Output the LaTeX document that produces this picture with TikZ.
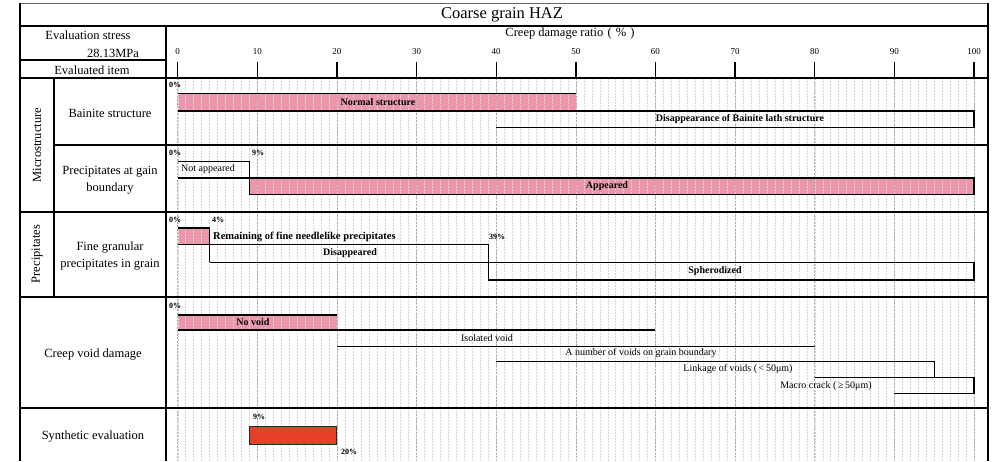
\documentclass[tikz,border=0pt]{standalone}
\usepackage{fontspec}
\setmainfont{Liberation Serif}
\definecolor{barpink}{RGB}{236,150,172}
\definecolor{barred}{RGB}{232,64,40}
\begin{document}
\begin{tikzpicture}[x=1pt,y=-1pt,
  tbl/.style={line width=1.3pt},
  gridminor/.style={black!16, dash pattern=on 1.5pt off 1.5pt, line width=0.4pt},
  gridmajor/.style={black!32, dash pattern=on 2pt off 1.5pt, line width=0.5pt},
  barline/.style={line width=1.1pt, line join=miter},
  hd/.style={font=\fontsize{12.5}{17}\selectfont, inner sep=0pt, align=center},
  tick/.style={font=\fontsize{9}{9}\selectfont, inner sep=0pt},
  blbl/.style={font=\fontsize{10}{10}\selectfont\bfseries, inner sep=0pt},
  rlbl/.style={font=\fontsize{10}{10}\selectfont, inner sep=0pt},
  pct/.style={font=\fontsize{8}{8}\selectfont\bfseries, inner sep=0pt}]
\useasboundingbox (0,0) rectangle (996,461);
\fill[white] (0,0) rectangle (996,461);

% ---------- chart area (x in percent) ----------
\begin{scope}[shift={(177.7,0)}, x=7.963pt]
  % fills
  \fill[barpink] (0,93.5) rectangle (50,111);
  \fill[barpink] (9,178) rectangle (100,194.3);
  \fill[barpink] (0,228) rectangle (4,244.3);
  \fill[barpink] (0,315) rectangle (20,330);
  % grid
  \foreach \i in {0,...,100} \draw[gridminor] (\i,78) -- (\i,461);
  \foreach \i in {0,10,...,100} \draw[gridmajor] (\i,78) -- (\i,461);
  \fill[barred] (9,426) rectangle (20,444.3);
  % ticks
  \foreach \i in {0,10,...,100} {
    \draw[line width=1.3pt] (\i,62) -- (\i,78);
    \node[tick] (t\i) at (\i,52) {\i};
  }
  % Bainite structure
  \draw[barline] (0,93.5) -- (50,93.5);
  \draw[barline] (0,111) -- (50,111);
  \draw[barline] (40,111) -- (100,111) -- (100,127.7) -- (40,127.7);
  % Precipitates at grain boundary
  \draw[barline] (0,161.7) -- (9,161.7) -- (9,194.3) -- (100,194.3) -- (100,178) -- (0,178);
  % Fine granular precipitates
  \draw[barline] (0,228) -- (4,228) -- (4,262.3);
  \draw[barline] (0,244.3) -- (39,244.3) -- (39,280) -- (100,280) -- (100,262.3) -- (4,262.3);
  % Creep void damage
  \draw[barline] (0,315) -- (20,315);
  \draw[barline] (0,330) -- (60,330);
  \draw[barline] (20,346.3) -- (80,346.3);
  \draw[barline] (40,361.5) -- (95,361.5) -- (95,377.3);
  \draw[barline] (80,377.3) -- (100,377.3) -- (100,393.3) -- (90,393.3);
  % Synthetic evaluation
  \draw[line width=1pt, black!85] (9,426) rectangle (20,444.3);
\end{scope}

% ---------- table lines ----------
\draw[line width=0.6pt, black!60] (20,3) -- (988,3);
\draw[tbl] (20,3) -- (20,461);
\draw[tbl] (988,3) -- (988,461);
\draw[tbl] (20,26) -- (988,26);
\draw[tbl] (166,26) -- (166,461);
\draw[tbl] (20,60) -- (166,60);
\draw[tbl] (20,78) -- (988,78);
\draw[tbl] (54,78) -- (54,297);
\draw[tbl] (54,145) -- (988,145);
\draw[tbl] (20,212) -- (988,212);
\draw[tbl] (20,297) -- (988,297);
\draw[tbl] (20,408) -- (988,408);

% ---------- header texts ----------
\node[font=\fontsize{16.5}{17}\selectfont, inner sep=0pt] (title) at (502,15) {Coarse grain HAZ};
\node[hd] (es) at (88,35) {Evaluation stress};
\node[hd] (mpa) at (113,53) {28.13MPa};
\node[hd] (ei) at (92,70) {Evaluated item};
\node[hd] (cdr) at (570,34) {Creep damage ratio\,\,(\,\,\%\,\,)};

% ---------- left column ----------
\node[hd, rotate=90] (micro) at (37,145) {Microstructure};
\node[hd, rotate=90] (prec) at (37,254) {Precipitates};
\node[hd] (bain) at (110,113) {Bainite structure};
\node[hd] (pgb) at (110,180) {Precipitates at gain\\boundary};
\node[hd] (fgp) at (110,256) {Fine granular\\precipitates in grain};
\node[hd] (cvd) at (93,355) {Creep void damage};
\node[hd] (syn) at (93,437) {Synthetic evaluation};

% ---------- bar labels ----------
\node[blbl] (ns) at (378,102) {Normal structure};
\node[blbl] (dbl) at (740,119.3) {Disappearance of Bainite lath structure};
\node[rlbl, anchor=west] (na) at (181,169.5) {Not appeared};
\node[blbl] (ap) at (607,186) {Appeared};
\node[blbl, font=\fontsize{10.5}{10}\selectfont\bfseries, anchor=west] (rem) at (213,236.5) {Remaining of fine needlelike precipitates};
\node[blbl] (dis) at (350,253.5) {Disappeared};
\node[blbl] (sph) at (715,271) {Spherodized};
\node[blbl] (nv) at (253,322.5) {No void};
\node[rlbl] (iv) at (487,338.5) {Isolated void};
\node[rlbl] (anv) at (641,353.5) {A number of voids on grain boundary};
\node[rlbl] (lv) at (738,369.5) {Linkage of voids (\,<\,50μm)};
\node[rlbl] (mc) at (826,386) {Macro crack (\,≥\,50μm)};

% ---------- percent labels ----------
\node[pct] (p1) at (175,85) {0\%};
\node[pct] (p2) at (175,153) {0\%};
\node[pct] (p3) at (258,153) {9\%};
\node[pct] (p4) at (175,220) {0\%};
\node[pct] (p5) at (218,220) {4\%};
\node[pct] (p6) at (497,236.5) {39\%};
\node[pct] (p7) at (175,306) {0\%};
\node[pct] (p8) at (259,417) {9\%};
\node[pct] (p9) at (349,452) {20\%};
\end{tikzpicture}
\end{document}
